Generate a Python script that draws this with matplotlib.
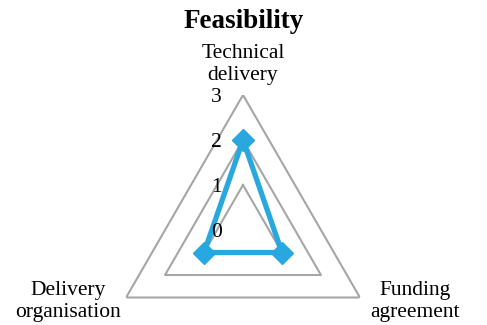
import numpy as np
import matplotlib
matplotlib.use("Agg")
import matplotlib.pyplot as plt

plt.rcParams['font.family'] = ['Liberation Serif', 'DejaVu Serif']

categories = ["Technical\ndelivery", "Funding\nagreement", "Delivery\norganisation"]
values = [2, 1, 1]
rings = [1, 2, 3]
ring_labels = ["0", "1", "2", "3"]

n = len(categories)
theta = np.arange(n) * 2 * np.pi / n
theta_closed = np.append(theta, theta[0])

fig = plt.figure(figsize=(4.87, 3.25), dpi=100)
cx, cy, R = 243, 230, 135
ax = fig.add_axes([(cx - R) / 487, (325 - cy - R) / 325, 2 * R / 487, 2 * R / 325],
                  projection='polar')
ax.set_theta_offset(np.pi / 2)
ax.set_theta_direction(-1)
ax.set_ylim(0, 3)
ax.axis('off')

# polygon grid
for r in rings:
    ax.plot(theta_closed, [r] * (n + 1), color='#A6A6A6', lw=1.5, zorder=1)

# data
vals_closed = values + values[:1]
ax.plot(theta_closed, vals_closed, color='#29A8E0', lw=3.8, zorder=3)
ax.plot(theta, values, ls='none', marker='D', ms=11, color='#29A8E0', zorder=4)

# radial labels
for i, lab in enumerate(ring_labels):
    ax.annotate(lab, xy=(0, i), xytext=(-19, -2), textcoords='offset points',
                ha='center', va='center', fontsize=15.5)

# category labels
offsets = [(0, 22), (40, -3), (-42, -3)]
for t, lab, off in zip(theta, categories, offsets):
    ax.annotate(lab, xy=(t, 3), xytext=off, textcoords='offset points',
                ha='center', va='center', fontsize=15.5, linespacing=1.2)

fig.text(0.5, 1 - 21 / 325, "Feasibility", ha='center', va='center',
         fontsize=19.5, fontweight='bold')

fig.savefig("out.png", dpi=100)
